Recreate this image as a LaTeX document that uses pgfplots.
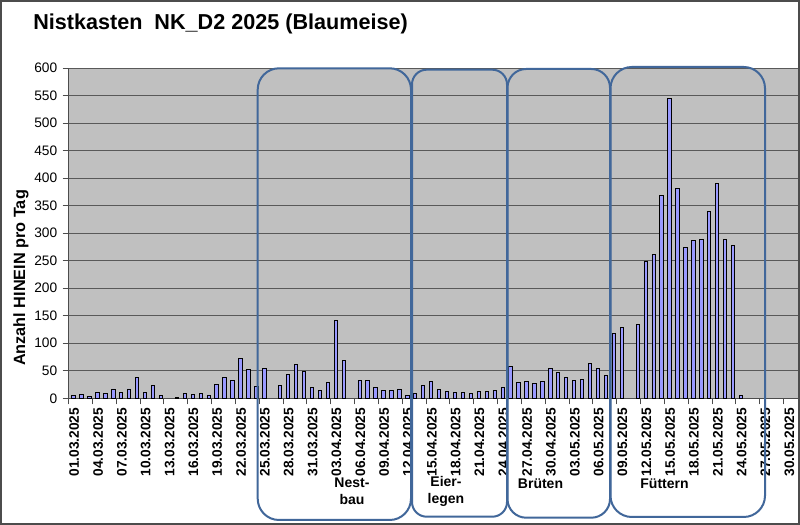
\documentclass[border=0pt]{standalone}
\usepackage{fontspec}
\setmainfont{Liberation Sans}
\usepackage{pgfplots}
\usepackage{pgfplotstable}
\pgfplotsset{compat=1.18}
\definecolor{barfill}{HTML}{9999FF}
\definecolor{boxblue}{HTML}{41679A}
\definecolor{plotbg}{HTML}{C0C0C0}

\pgfplotstableread{
x y
0 5
1 7
2 4
3 10
4 9
5 17
6 11
7 17
8 38
9 10
10 24
11 5
13 1
14 8
15 7
16 8
17 6
18 25
19 38
20 33
21 73
22 52
23 21
24 55
26 24
27 44
28 62
29 49
30 20
31 15
32 28
33 141
34 69
36 33
37 33
38 20
39 15
40 15
41 17
42 5
43 8
44 23
45 31
46 16
47 12
48 10
49 10
50 8
51 12
52 12
53 15
54 19
55 58
56 28
57 31
58 27
59 31
60 55
61 47
62 38
63 33
64 34
65 63
66 55
67 41
68 118
69 128
71 134
72 248
73 261
74 368
75 545
76 381
77 274
78 287
79 288
80 339
81 391
82 288
83 278
84 5
}\datatable

\begin{document}
\begin{tikzpicture}
\useasboundingbox (0,0) rectangle (600pt,393.75pt);
\fill[white] (0,0) rectangle (600pt,393.75pt);
\begin{axis}[
  at={(51.375pt,95.025pt)}, anchor=south west,
  scale only axis, width=548.25pt, height=247.7pt,
  xmin=-0.5, xmax=91.5, ymin=0, ymax=600,
  ytick={0,50,...,600},
  xtick={-0.5,2.5,...,89.5},
  xticklabels={01.03.2025,04.03.2025,07.03.2025,10.03.2025,13.03.2025,16.03.2025,19.03.2025,22.03.2025,25.03.2025,28.03.2025,31.03.2025,03.04.2025,06.04.2025,09.04.2025,12.04.2025,15.04.2025,18.04.2025,21.04.2025,24.04.2025,27.04.2025,30.04.2025,03.05.2025,06.05.2025,09.05.2025,12.05.2025,15.05.2025,18.05.2025,21.05.2025,24.05.2025,27.05.2025,30.05.2025},
  axis background/.style={fill=plotbg},
  axis x line*=bottom, axis y line*=left,
  axis line style={draw=black!70, line width=0.75pt, -},
  ymajorgrids, grid style={draw=black!65, line width=0.75pt},
  tick align=outside,
  major tick length=4.5pt,
  tick style={draw=black!70, line width=0.75pt},
  /pgf/number format/assume math mode=true,
  yticklabel style={font=\fontsize{10.3}{12}\selectfont, inner sep=1pt, xshift=-2.8pt},
  xticklabel style={font=\fontsize{10.3}{12}\selectfont\bfseries, xshift=4.3pt, yshift=-1.5pt, rotate=90, anchor=east, inner sep=1pt},
]
\addplot[ybar, bar width=2.5pt, bar shift=0.8pt, fill=barfill, draw=black, line width=0.6pt] table[x=x, y=y] {\datatable};
\end{axis}
\begin{scope}[x=0.75pt,y=-0.75pt,yshift=393.75pt]
\draw[boxblue, line width=1.5pt, rounded corners=16pt] (257.7,68.3) rectangle (411,520);
\draw[boxblue, line width=1.5pt, rounded corners=11pt] (412,69.7) rectangle (507,516.7);
\draw[boxblue, line width=1.5pt, rounded corners=14pt] (507.5,69) rectangle (610,517.7);
\draw[boxblue, line width=1.5pt, rounded corners=16pt] (610.5,67) rectangle (765,517);
\node[font=\fontsize{10.5}{12.75}\selectfont\bfseries, align=center] at (352,491.5) {Nest-\\bau};
\node[font=\fontsize{10.5}{12.75}\selectfont\bfseries, align=center] at (446,491.5) {Eier-\\legen};
\node[font=\fontsize{10.5}{12.75}\selectfont\bfseries] at (540.5,484) {Brüten};
\node[font=\fontsize{10.5}{12.75}\selectfont\bfseries] at (664.5,484) {Füttern};
\node[anchor=base west, inner sep=0pt, font=\fontsize{16.2}{19}\selectfont\bfseries] at (33,29.3) {Nistkasten\ \ NK\_D2 2025 (Blaumeise)};
\node[rotate=90, anchor=base, inner sep=0pt, font=\fontsize{12.2}{14}\selectfont\bfseries] at (25,278) {Anzahl HINEIN pro Tag};
\draw[black!70, line width=1.2pt] (0.8,0.8) rectangle (799.2,524.2);
\end{scope}
\end{tikzpicture}
\end{document}
